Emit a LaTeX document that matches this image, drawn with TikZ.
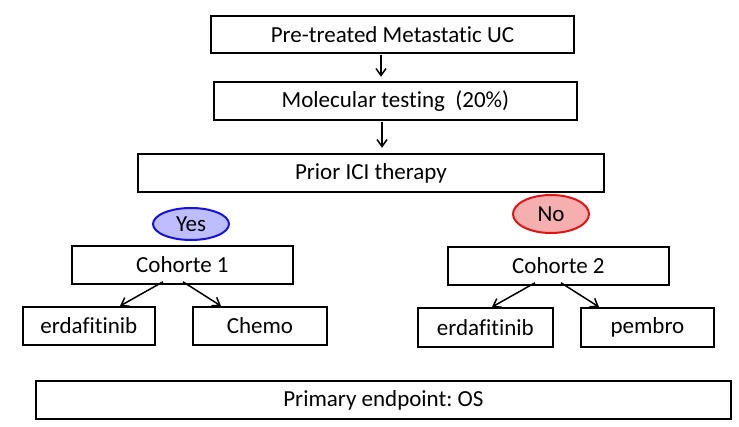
\documentclass[tikz,border=0pt]{standalone}
\usepackage{fontspec}
\setmainfont[Ligatures={NoCommon,NoRare}]{Carlito}
\frenchspacing
\usetikzlibrary{arrows.meta,shapes.geometric}
\definecolor{yesfill}{RGB}{189,189,255}
\definecolor{yesdraw}{RGB}{20,20,220}
\definecolor{nofill}{RGB}{245,175,175}
\definecolor{nodraw}{RGB}{225,20,20}
\begin{document}
\begin{tikzpicture}[x=1pt,y=-1pt,
  box/.style={draw=black,line width=1.8pt,inner sep=0pt,anchor=north west,font=\fontsize{23}{25}\selectfont},
  oval/.style={ellipse,line width=2pt,inner sep=0pt,font=\fontsize{23}{25}\selectfont},
  arr/.style={-{Straight Barb[length=7pt,width=10pt]},line width=1.5pt}]
\useasboundingbox (0,0) rectangle (739,427);
\node[box,minimum width=363pt,minimum height=37pt] (pre) at (210,15) {Pre-treated Metastatic UC};
\node[box,minimum width=363pt,minimum height=38pt] (mol) at (213,81) {Molecular testing\ \ (20\%)};
\node[box,minimum width=466pt,minimum height=38pt] (ici) at (137,153) {Prior ICI therapy};
\node[oval,draw=yesdraw,fill=yesfill,minimum width=76pt,minimum height=32pt] (yes) at (191,224) {Yes};
\node[oval,draw=nodraw,fill=nofill,minimum width=76pt,minimum height=38pt] (no) at (551,214) {No};
\node[box,minimum width=221pt,minimum height=38pt] (c1) at (71,245) {Cohorte 1};
\node[box,minimum width=221pt,minimum height=38pt] (c2) at (447,246) {Cohorte 2};
\node[box,minimum width=132pt,minimum height=38pt] (e1) at (22,306) {erdafitinib};
\node[box,minimum width=134pt,minimum height=38pt] (ch) at (192,306) {Chemo};
\node[box,minimum width=135pt,minimum height=39pt] (e2) at (417,307) {erdafitinib};
\node[box,minimum width=133pt,minimum height=39pt] (pe) at (580,307) {pembro};
\node[box,minimum width=695pt,minimum height=38pt] (pri) at (35,380) {Primary endpoint: OS};
\draw[arr] (pre.south -| 381,0) ++(0,1) -- ++(0,22);
\draw[arr] (mol.south -| 382,0) ++(0,1) -- ++(0,26);
\draw[arr] (c1.south -| 163,0) ++(0,-3) -- (e1.north -| 120,0);
\draw[arr] (c1.south -| 183,0) ++(0,-3) -- (ch.north -| 221,0);
\draw[arr] (c2.south -| 535,0) ++(0,-3) -- (e2.north -| 492,0);
\draw[arr] (c2.south -| 561,0) ++(0,-3) -- (pe.north -| 599,0);
\end{tikzpicture}
\end{document}
